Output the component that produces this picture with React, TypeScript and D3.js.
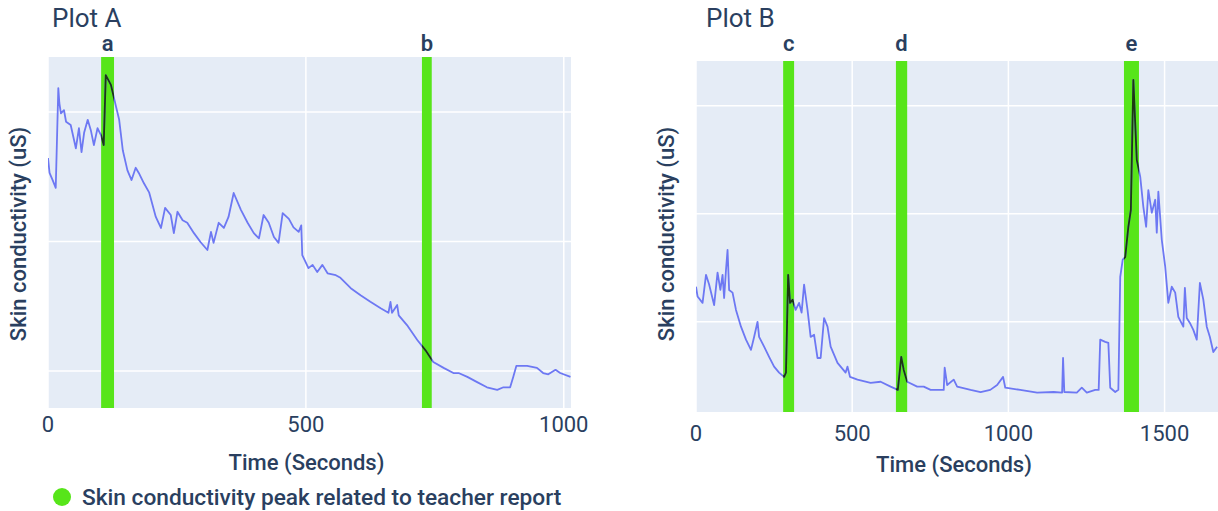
import React from "react";
import * as d3 from "d3";

// Plot A: time (s) and skin conductivity readings
const plotATime = [0, 3, 9, 15, 20, 22, 25, 31, 35, 44, 54, 60, 65, 70, 77, 83, 89, 96, 103, 108, 112, 122, 132, 138, 145, 154, 162, 170, 176, 186, 196, 209, 219, 227, 238, 244, 251, 261, 270, 283, 296, 309, 316, 321, 331, 341, 350, 360, 374, 387, 399, 409, 418, 428, 438, 447, 455, 467, 476, 486, 491, 493, 505, 513, 522, 532, 542, 558, 567, 587, 606, 625, 645, 660, 664, 667, 677, 680, 696, 716, 732, 747, 767, 786, 796, 813, 832, 851, 871, 883, 896, 902, 908, 929, 948, 960, 970, 984, 993, 1013];
const plotAValue = [5.29, 5.06, 4.95, 4.83, 6.37, 6.14, 5.98, 6.03, 5.85, 5.8, 5.44, 5.75, 5.38, 5.68, 5.88, 5.72, 5.49, 5.75, 5.64, 5.49, 6.57, 6.42, 6.08, 5.88, 5.41, 5.1, 4.95, 5.14, 5.06, 4.9, 4.76, 4.38, 4.21, 4.52, 4.41, 4.13, 4.46, 4.33, 4.29, 4.13, 3.99, 3.87, 4.15, 3.98, 4.29, 4.21, 4.38, 4.75, 4.49, 4.29, 4.13, 4.05, 4.41, 4.29, 4.07, 3.98, 4.44, 4.35, 4.22, 4.15, 4.25, 3.79, 3.59, 3.64, 3.53, 3.64, 3.51, 3.48, 3.44, 3.28, 3.17, 3.07, 2.97, 2.9, 3.07, 2.9, 3.02, 2.86, 2.71, 2.48, 2.32, 2.14, 2.05, 1.97, 1.97, 1.91, 1.83, 1.75, 1.71, 1.75, 1.75, 1.91, 2.08, 2.08, 2.05, 1.97, 1.95, 2.02, 1.97, 1.91];
const plotAPeaks = [[103, 128], [725, 744]];
const plotALabels = ["a", "b"];

// Plot B
const plotBTime = [0, 5, 21, 32, 42, 58, 69, 78, 85, 90, 96, 101, 106, 117, 128, 144, 160, 176, 186, 197, 202, 218, 234, 250, 266, 282, 288, 295, 301, 309, 319, 330, 338, 346, 357, 367, 378, 389, 399, 410, 421, 431, 453, 479, 485, 493, 517, 559, 591, 623, 646, 657, 665, 676, 708, 729, 751, 793, 796, 804, 825, 836, 879, 911, 942, 964, 983, 990, 1038, 1092, 1145, 1172, 1175, 1179, 1219, 1235, 1251, 1278, 1289, 1294, 1310, 1320, 1326, 1342, 1352, 1358, 1366, 1374, 1384, 1392, 1400, 1411, 1422, 1432, 1441, 1448, 1459, 1470, 1475, 1480, 1491, 1502, 1512, 1523, 1534, 1544, 1560, 1565, 1571, 1581, 1592, 1603, 1613, 1624, 1635, 1645, 1656, 1668];
const plotBValue = [2.65, 2.47, 2.35, 2.87, 2.69, 2.31, 2.91, 2.59, 2.87, 2.44, 2.96, 3.33, 2.59, 2.54, 2.22, 1.91, 1.67, 1.48, 1.72, 2.0, 1.72, 1.54, 1.35, 1.17, 1.06, 0.98, 1.06, 2.87, 2.35, 2.41, 2.22, 2.35, 2.17, 2.69, 2.22, 1.72, 1.76, 1.33, 1.33, 2.07, 1.91, 1.54, 1.24, 1.06, 1.17, 0.98, 0.93, 0.87, 0.89, 0.8, 0.74, 1.35, 1.11, 0.89, 0.8, 0.8, 0.74, 0.74, 1.15, 0.83, 0.93, 0.8, 0.74, 0.7, 0.74, 0.83, 0.98, 0.78, 0.74, 0.69, 0.7, 0.69, 1.33, 0.7, 0.69, 0.78, 0.69, 0.74, 0.74, 1.67, 1.63, 1.61, 0.78, 0.7, 0.74, 2.83, 3.15, 3.2, 3.76, 4.07, 6.48, 5.0, 4.69, 4.13, 3.76, 4.44, 4.02, 4.26, 3.65, 4.41, 3.52, 3.02, 2.35, 2.65, 2.54, 2.09, 1.91, 2.63, 2.07, 1.98, 1.85, 1.67, 2.72, 2.41, 1.91, 1.72, 1.44, 1.54];
const plotBPeaks = [[279, 314], [640, 676], [1370, 1418]];
const plotBLabels = ["c", "d", "e"];

const xTicks = [0, 500, 1000, 1500];
const yGrid = [2, 4, 6];

const FONT = "Roboto, 'Open Sans', sans-serif";
const TEXT = "#2a3f5f";
const GREEN = "#57e51a";

function Panel({ id, title, times, values, peaks, labels, xDomain, yDomain, box, titleX, tickY, xTitleY }) {
  const [x0, x1, y0, y1] = box;
  const x = d3.scaleLinear().domain(xDomain).range([x0, x1]);
  const y = d3.scaleLinear().domain(yDomain).range([y1, y0]);
  const pts = times.map((t, i) => [t, values[i]]);
  const line = d3
    .line()
    .x((d) => x(d[0]))
    .y((d) => y(d[1]));
  const path = line(pts);
  const ticks = xTicks.filter((t) => t >= xDomain[0] && t <= xDomain[1]);
  return (
    <g>
      <defs>
        <clipPath id={id + "-plot"}>
          <rect x={x0} y={y0} width={x1 - x0} height={y1 - y0} />
        </clipPath>
        <clipPath id={id + "-peaks"}>
          {peaks.map((p, i) => (
            <rect key={i} x={x(p[0])} y={y0} width={x(p[1]) - x(p[0])} height={y1 - y0} />
          ))}
        </clipPath>
      </defs>
      <rect x={x0} y={y0} width={x1 - x0} height={y1 - y0} fill="#e5ecf6" />
      {ticks.map((t) => (
        <line key={"vx" + t} x1={x(t)} x2={x(t)} y1={y0} y2={y1} stroke="#fff" strokeWidth={1.5} />
      ))}
      {yGrid.map((v) => (
        <line key={"hy" + v} x1={x0} x2={x1} y1={y(v)} y2={y(v)} stroke="#fff" strokeWidth={1.5} />
      ))}
      {peaks.map((p, i) => (
        <rect key={"pk" + i} x={x(p[0])} y={y0} width={x(p[1]) - x(p[0])} height={y1 - y0} fill={GREEN} />
      ))}
      <g clipPath={`url(#${id}-plot)`}>
        <path d={path} fill="none" stroke="#6d78f3" strokeWidth={1.8} strokeLinejoin="round" />
      </g>
      <g clipPath={`url(#${id}-peaks)`}>
        <path d={path} fill="none" stroke="#1c3a10" strokeWidth={1.8} strokeLinejoin="round" />
      </g>
      {peaks.map((p, i) => (
        <text key={"lb" + i} x={(x(p[0]) + x(p[1])) / 2} y={51} textAnchor="middle" fontSize={22} fontWeight={600} fill={TEXT}>
          {labels[i]}
        </text>
      ))}
      {ticks.map((t) => (
        <text key={"tl" + t} x={x(t)} y={tickY} textAnchor="middle" dominantBaseline="central" fontSize={22} fill={TEXT}>
          {t}
        </text>
      ))}
      <text x={titleX} y={27} fontSize={26} fill={TEXT}>
        {title}
      </text>
      <text x={(x0 + x1) / 2 - 3} y={xTitleY} textAnchor="middle" dominantBaseline="central" fontSize={22} fontWeight={500} fill={TEXT}>
        Time (Seconds)
      </text>
      <text
        transform={`translate(${x0 - 30},234) rotate(-90)`}
        textAnchor="middle"
        dominantBaseline="central"
        fontSize={22}
        fontWeight={500}
        fill={TEXT}
      >
        Skin conductivity (uS)
      </text>
    </g>
  );
}

export default function App() {
  return (
    <div style={{ position: "absolute", left: 0, top: 0 }}>
      <svg width={1218} height={511} style={{ display: "block", fontFamily: FONT }}>
        <rect width={1218} height={511} fill="#fff" />
        <Panel
          id="pa"
          title="Plot A"
          times={plotATime}
          values={plotAValue}
          peaks={plotAPeaks}
          labels={plotALabels}
          xDomain={[0, 1014]}
          yDomain={[1.43, 6.85]}
          box={[48, 571, 57, 408]}
          titleX={52}
          tickY={424}
          xTitleY={462}
        />
        <Panel
          id="pb"
          title="Plot B"
          times={plotBTime}
          values={plotBValue}
          peaks={plotBPeaks}
          labels={plotBLabels}
          xDomain={[0, 1671]}
          yDomain={[0.33, 6.83]}
          box={[696, 1218, 61, 412]}
          titleX={706}
          tickY={433}
          xTitleY={464}
        />
        <circle cx={62} cy={497} r={9} fill={GREEN} />
        <text x={82} y={497} dominantBaseline="central" fontSize={22.7} fontWeight={500} fill={TEXT}>
          Skin conductivity peak related to teacher report
        </text>
      </svg>
    </div>
  );
}
